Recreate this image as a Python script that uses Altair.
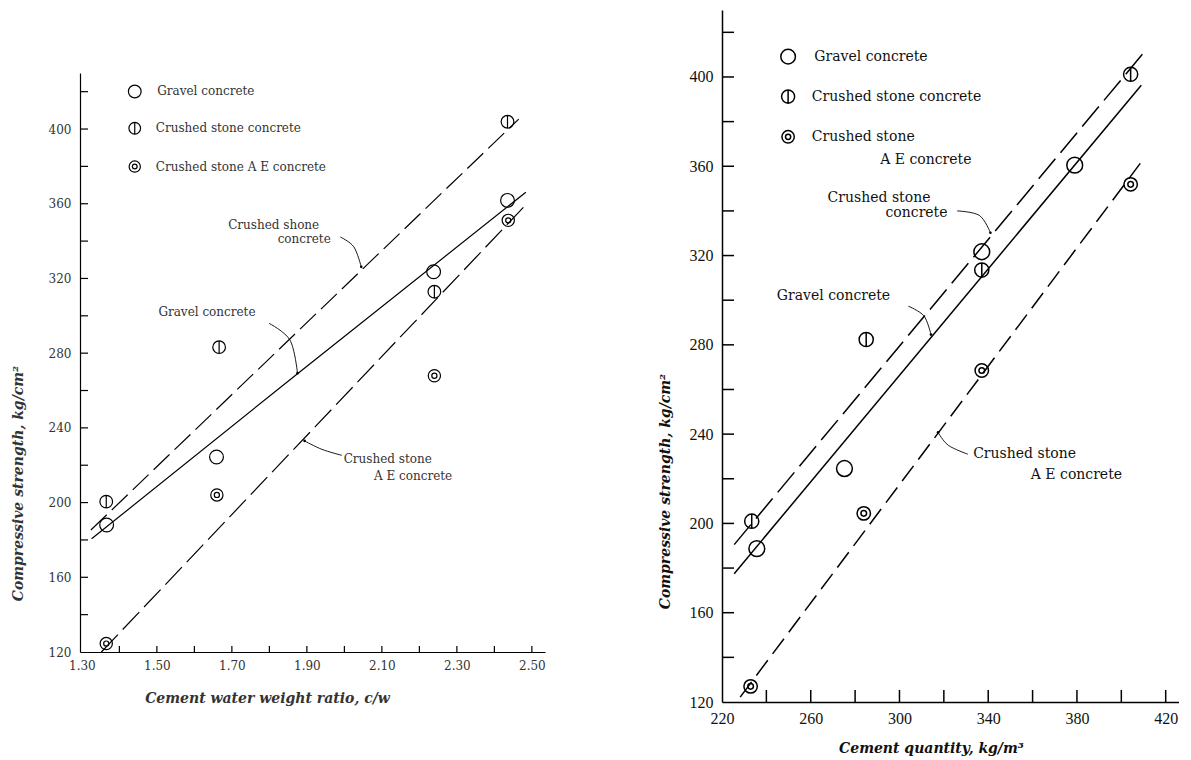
import altair as alt
import pandas as pd

# ---------------- data: left panel (cement-water ratio) ----------------
cw_gravel_x = [1.366, 1.659, 2.238, 2.435]
cw_gravel_y = [188.0, 224.4, 323.6, 361.8]
cw_crushed_x = [1.365, 1.666, 2.240, 2.435]
cw_crushed_y = [200.5, 283.2, 312.9, 403.9]
cw_ae_x = [1.365, 1.660, 2.240, 2.437]
cw_ae_y = [124.5, 204.1, 267.9, 351.1]

cw_fit_gravel_x = [1.326, 1.875, 2.484]
cw_fit_gravel_y = [180.6, 269.0, 366.2]
cw_fit_crushed_x = [1.324, 2.465]
cw_fit_crushed_y = [185.3, 405.3]
cw_fit_ae_x = [1.352, 2.478]
cw_fit_ae_y = [120.0, 358.2]

cw_x_labels = [1.30, 1.50, 1.70, 1.90, 2.10, 2.30, 2.50]
cw_x_ticks = [1.4, 1.5, 1.6, 1.7, 1.8, 1.9, 2.0, 2.1, 2.2, 2.3, 2.4, 2.5]

# ---------------- data: right panel (cement quantity) ----------------
cq_gravel_x = [235.7, 275.2, 337.1, 379.0]
cq_gravel_y = [188.7, 224.6, 321.7, 360.5]
cq_crushed_x = [233.4, 285.0, 337.1, 404.2]
cq_crushed_y = [201.0, 282.4, 313.5, 401.2]
cq_ae_x = [232.9, 283.9, 337.1, 404.2]
cq_ae_y = [127.0, 204.5, 268.5, 351.9]

cq_fit_gravel_x = [225.5, 409.0]
cq_fit_gravel_y = [177.5, 396.3]
cq_fit_crushed_x = [225.5, 410.1]
cq_fit_crushed_y = [190.5, 410.9]
cq_fit_ae_x = [228.2, 409.3]
cq_fit_ae_y = [122.2, 362.3]

cq_x_labels = [220, 260, 300, 340, 380, 420]
cq_x_ticks = [240, 260, 280, 300, 320, 340, 360, 380, 400, 420]

strength_labels = [120, 160, 200, 240, 280, 320, 360, 400]
strength_ticks = [140, 160, 180, 200, 220, 240, 260, 280, 300, 320, 340, 360, 380, 400, 420]

series_names = ["Gravel concrete", "Crushed stone concrete", "Crushed stone A E concrete"]

# symbol shapes (unit paths)
SYM_CIRCLE = "circle"
SYM_BAR = "M-1,0A1,1,0,1,1,1,0A1,1,0,1,1,-1,0ZM0,-1L0,1"
SYM_DOUBLE = ("M-1,0A1,1,0,1,1,1,0A1,1,0,1,1,-1,0Z"
              "M-0.42,0A0.42,0.42,0,1,1,0.42,0A0.42,0.42,0,1,1,-0.42,0Z")

SERIF = "DejaVu Serif"


def xy(xs, ys):
    return pd.DataFrame({"x": xs, "y": ys, "o": list(range(len(xs)))})


def build_panel(cfg):
    xs = alt.Scale(domain=cfg["xdom"], nice=False, zero=False)
    ys_kw = dict(domain=cfg["ydom"], nice=False, zero=False)
    if cfg.get("yrange"):
        ys_kw["range"] = cfg["yrange"]
    ys = alt.Scale(**ys_kw)
    col = cfg["color"]
    W, H = cfg["w"], cfg["h"]

    xaxis = alt.Axis(values=cfg["xlabels"], format=cfg["xfmt"], ticks=False, grid=False,
                     domainColor="black", domainWidth=cfg["sw"], labelFont=cfg["labfont"],
                     labelFontSize=cfg["labsize"], labelColor=col, labelPadding=8,
                     labelFlush=False, labelOverlap=False,
                     title=cfg["xtitle"], titleFont=SERIF, titleFontStyle="italic",
                     titleFontWeight="bold", titleFontSize=cfg["titlesize"], titleColor=col,
                     titleX=cfg["xtitle_x"], titleY=cfg["xtitle_y"], titleAlign="center",
                     titleBaseline="middle")
    yaxis = alt.Axis(values=strength_labels, ticks=False, grid=False, domainColor="black",
                     domainWidth=cfg["sw"], labelFont=cfg["labfont"], labelFontSize=cfg["labsize"],
                     labelColor=col, labelPadding=9, labelFlush=False, labelOverlap=False,
                     title=cfg["ytitle"], titleFont=SERIF, titleFontStyle="italic",
                     titleFontWeight="bold", titleFontSize=cfg["titlesize"], titleColor=col,
                     titleAngle=270, titleX=cfg["ytitle_x"], titleY=cfg["ytitle_y"],
                     titleAlign="center", titleBaseline="middle")

    def X():
        return alt.X("x:Q", scale=xs, axis=xaxis)

    def Y():
        return alt.Y("y:Q", scale=ys, axis=yaxis)

    layers = []
    shapes = [SYM_CIRCLE, SYM_BAR, SYM_DOUBLE]
    # series symbols
    for i, ((px, py), shp) in enumerate(zip(cfg["series"], shapes)):
        layers.append(
            alt.Chart(xy(px, py)).mark_point(shape=shp, filled=False, color="black",
                                            strokeWidth=cfg["sw"], size=cfg["symsize"][i],
                                            opacity=1).encode(x=X(), y=Y())
        )
    # fitted lines
    for (fx, fy), dash in zip(cfg["fits"], cfg["dashes"]):
        kw = dict(color="black", strokeWidth=cfg["sw"])
        if dash:
            kw["strokeDash"] = dash
        layers.append(alt.Chart(xy(fx, fy)).mark_line(**kw).encode(x=X(), y=Y(), order="o:Q"))
    # leader arrows
    for ax_, ay_ in cfg["arrows"]:
        layers.append(alt.Chart(xy(ax_, ay_)).mark_line(color="black", strokeWidth=0.9,
                                                       interpolate="cardinal")
                      .encode(x=X(), y=Y(), order="o:Q"))
        layers.append(alt.Chart(xy(ax_[-1:], ay_[-1:])).mark_point(
            shape="circle", filled=True, color="black", size=7, opacity=1)
            .encode(x=X(), y=Y()))
    # legend symbols
    for (lx, ly), shp, sz in zip(cfg["legend_sym"], shapes, cfg["symsize"]):
        layers.append(alt.Chart(xy([lx], [ly])).mark_point(shape=shp, filled=False, color="black",
                                                          strokeWidth=cfg["sw"], size=sz * 0.85,
                                                          opacity=1).encode(x=X(), y=Y()))
    # text labels
    tdf = pd.DataFrame(cfg["texts"], columns=["x", "y", "t"])
    layers.append(alt.Chart(tdf).mark_text(align="left", baseline="middle", font=SERIF,
                                           fontSize=cfg["textsize"], color=col)
                  .encode(x=X(), y=Y(), text="t:N"))
    # inward ticks
    layers.append(alt.Chart(pd.DataFrame({"x": cfg["xticks"]})).mark_rule(
        color="black", strokeWidth=cfg["sw"]).encode(
        x=X(), y=alt.value(H), y2=alt.value(H - cfg["xticklen"])))
    layers.append(alt.Chart(pd.DataFrame({"y": strength_ticks})).mark_rule(
        color="black", strokeWidth=cfg["sw"]).encode(
        y=Y(), x=alt.value(0), x2=alt.value(cfg["yticklen"])))
    return alt.layer(*layers).properties(width=W, height=H)


left_cfg = dict(
    xdom=[1.295, 2.535], ydom=[120, 430], w=465, h=642, yrange=[642, 63],
    color="#333333", sw=1.2, labfont=SERIF, labsize=12, titlesize=14,
    xlabels=cw_x_labels, xfmt=".2f", xticks=cw_x_ticks, xticklen=6, yticklen=8,
    xtitle="Cement water weight ratio, c/w", xtitle_x=187, xtitle_y=46,
    ytitle="Compressive strength, kg/cm²", ytitle_x=-62, ytitle_y=473,
    series=[(cw_gravel_x, cw_gravel_y), (cw_crushed_x, cw_crushed_y), (cw_ae_x, cw_ae_y)],
    symsize=[190, 160, 150],
    fits=[(cw_fit_gravel_x, cw_fit_gravel_y), (cw_fit_crushed_x, cw_fit_crushed_y),
          (cw_fit_ae_x, cw_fit_ae_y)],
    dashes=[None, [22, 7], [24, 7]],
    arrows=[([1.989, 2.025, 2.045], [342.2, 337.0, 326.2]),
            ([1.799, 1.855, 1.875], [296.0, 287.0, 269.3]),
            ([1.993, 1.94, 1.894], [225.3, 228.5, 233.0])],
    legend_sym=[(1.441, 420.1), (1.441, 400.4), (1.441, 379.9)],
    texts=[(1.501, 420.1, series_names[0]), (1.497, 400.4, series_names[1]),
           (1.497, 379.9, series_names[2]),
           (1.690, 348.8, "Crushed shone"), (1.822, 341.3, "concrete"),
           (1.504, 301.9, "Gravel concrete"),
           (1.998, 223.5, "Crushed stone"), (2.079, 214.0, "A E concrete")],
    textsize=12,
)

right_cfg = dict(
    xdom=[220, 426], ydom=[120, 430], w=457, h=692, yrange=None,
    color="#111111", sw=1.5, labfont="Liberation Serif", labsize=16, titlesize=14,
    xlabels=cq_x_labels, xfmt="d", xticks=cq_x_ticks, xticklen=12, yticklen=12,
    xtitle="Cement quantity, kg/m³", xtitle_x=209, xtitle_y=46,
    ytitle="Compressive strength, kg/cm²", ytitle_x=-57, ytitle_y=481,
    series=[(cq_gravel_x, cq_gravel_y), (cq_crushed_x, cq_crushed_y), (cq_ae_x, cq_ae_y)],
    symsize=[250, 200, 180],
    fits=[(cq_fit_gravel_x, cq_fit_gravel_y), (cq_fit_crushed_x, cq_fit_crushed_y),
          (cq_fit_ae_x, cq_fit_ae_y)],
    dashes=[None, [26, 8], [19, 8]],
    arrows=[([326.0, 336.0, 341.0], [340.0, 338.0, 330.2]),
            ([304.0, 311.0, 314.2], [297.3, 293.0, 284.6]),
            ([330.8, 322.0, 317.4], [231.0, 235.0, 240.8])],
    legend_sym=[(249.8, 409.1), (249.8, 391.2), (249.8, 373.2)],
    texts=[(261.6, 409.1, "Gravel concrete"), (260.5, 391.2, "Crushed stone concrete"),
           (260.5, 373.2, "Crushed stone"), (291.3, 362.8, "A E concrete"),
           (267.6, 345.9, "Crushed stone"), (293.7, 338.9, "concrete"),
           (244.7, 301.8, "Gravel concrete"),
           (333.2, 231.0, "Crushed stone"), (359.2, 221.5, "A E concrete")],
    textsize=14,
)

left = build_panel(left_cfg)
right = build_panel(right_cfg)

chart = alt.hconcat(left, right, spacing=112).properties(
    padding={"left": 3, "top": 2, "right": 0, "bottom": 8},
    background="white",
).configure_view(strokeWidth=0, stroke="transparent")

chart.save("out.html", embed_options={"renderer": "svg", "actions": False})
